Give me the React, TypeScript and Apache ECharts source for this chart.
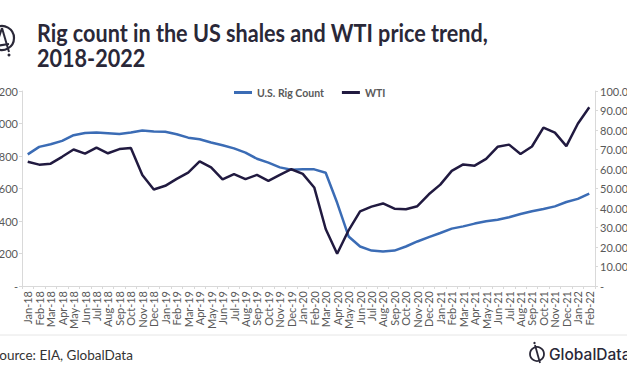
import React, { useEffect, useRef } from "react";
import * as echarts from "echarts";

const months = [
  "Jan-18","Feb-18","Mar-18","Apr-18","May-18","Jun-18","Jul-18","Aug-18","Sep-18","Oct-18","Nov-18","Dec-18",
  "Jan-19","Feb-19","Mar-19","Apr-19","May-19","Jun-19","Jul-19","Aug-19","Sep-19","Oct-19","Nov-19","Dec-19",
  "Jan-20","Feb-20","Mar-20","Apr-20","May-20","Jun-20","Jul-20","Aug-20","Sep-20","Oct-20","Nov-20","Dec-20",
  "Jan-21","Feb-21","Mar-21","Apr-21","May-21","Jun-21","Jul-21","Aug-21","Sep-21","Oct-21","Nov-21","Dec-21",
  "Jan-22","Feb-22",
];

const rigCount = [
  810, 856, 872, 893, 928, 942, 944, 940, 936, 944, 957, 951,
  949, 934, 913, 903, 883, 866, 847, 821, 783, 759, 730, 716,
  718, 718, 697, 512, 305, 243, 218, 212, 218, 243, 274, 301,
  326, 353, 367, 384, 398, 408, 423, 443, 460, 474, 490, 517,
  536, 569,
];

const wti = [
  63.7, 62.23, 62.73, 66.25, 69.98, 67.87, 70.98, 68.06, 70.23, 70.75, 56.96, 49.52,
  51.38, 54.95, 58.15, 63.86, 60.83, 54.66, 57.35, 54.81, 56.95, 53.96, 57.03, 59.88,
  57.52, 50.54, 29.21, 16.55, 28.56, 38.31, 40.71, 42.34, 39.63, 39.4, 40.94, 47.02,
  52.0, 59.04, 62.33, 61.72, 65.17, 71.38, 72.49, 67.73, 71.54, 81.22, 78.65, 71.71,
  83.22, 91.64,
];

const seriesNames = ["U.S. Rig Count", "WTI"];
const titleLines = ["Rig count in the US shales and WTI price trend,", "2018-2022"];
const sourceText = "Source: EIA, GlobalData";

const BLUE = "#3b6cb5";
const NAVY = "#211a40";
const DARK = "#2a2838";
const AXIS_TEXT = "#595959";
const FONT = "Lato, 'Open Sans', sans-serif";

export default function App() {
  const ref = useRef<HTMLDivElement>(null);

  useEffect(() => {
    if (!ref.current) return;
    const chart = echarts.init(ref.current, undefined, { renderer: "svg" });
    chart.setOption({
      animation: false,
      backgroundColor: "#ffffff",
      textStyle: { fontFamily: FONT },
      grid: { left: 22, right: 32, top: 91, bottom: 90, containLabel: false, outerBoundsMode: "none" },
      legend: {
        data: seriesNames,
        left: 229,
        top: 82,
        icon: "rect",
        itemWidth: 18,
        itemHeight: 3,
        itemGap: 18,
        textStyle: { fontSize: 10.5, fontWeight: "bold", color: AXIS_TEXT, fontFamily: FONT },
      },
      xAxis: {
        type: "category",
        data: months,
        boundaryGap: true,
        axisLine: { show: true, lineStyle: { color: "#d9d9d9" } },
        axisTick: { show: true, length: 3, lineStyle: { color: "#d9d9d9" } },
        axisLabel: { rotate: 90, interval: 0, fontSize: 11, color: AXIS_TEXT, margin: 5, fontFamily: FONT },
      },
      yAxis: [
        {
          type: "value",
          min: 0,
          max: 1200,
          interval: 200,
          splitLine: { show: false },
          axisLine: { show: true, lineStyle: { color: "#d9d9d9" } },
          axisTick: { show: true, length: 3, lineStyle: { color: "#d9d9d9" } },
          axisLabel: {
            fontSize: 11,
            color: AXIS_TEXT,
            margin: 4,
            fontFamily: FONT,
            formatter: (v: number) => (v === 0 ? "-" : v.toLocaleString("en-US")),
          },
        },
        {
          type: "value",
          min: 0,
          max: 100,
          interval: 10,
          position: "right",
          splitLine: { show: false },
          axisLine: { show: true, lineStyle: { color: "#d9d9d9" } },
          axisTick: { show: true, length: 3, lineStyle: { color: "#d9d9d9" } },
          axisLabel: {
            fontSize: 11,
            color: AXIS_TEXT,
            margin: 5,
            fontFamily: FONT,
            formatter: (v: number) => (v === 0 ? "-" : v.toFixed(2)),
          },
        },
      ],
      series: [
        {
          name: seriesNames[0],
          type: "line",
          yAxisIndex: 0,
          data: rigCount,
          showSymbol: false,
          symbol: "none",
          lineStyle: { color: BLUE, width: 2.5 },
          itemStyle: { color: BLUE },
        },
        {
          name: seriesNames[1],
          type: "line",
          yAxisIndex: 1,
          data: wti,
          showSymbol: false,
          symbol: "none",
          lineStyle: { color: NAVY, width: 2.5 },
          itemStyle: { color: NAVY },
        },
      ],
      graphic: [
        {
          type: "text",
          x: 37,
          y: 21,
          scaleX: 0.9,
          style: { text: titleLines[0], fontSize: 24, fontWeight: "bold", fill: DARK, fontFamily: FONT, textVerticalAlign: "top" },
        },
        {
          type: "text",
          x: 37,
          y: 46,
          scaleX: 0.9,
          style: { text: titleLines[1], fontSize: 24, fontWeight: "bold", fill: DARK, fontFamily: FONT, textVerticalAlign: "top" },
        },
        // top-left logo (cropped)
        { type: "circle", shape: { cx: 2, cy: 38, r: 12 }, style: { fill: "none", stroke: DARK, lineWidth: 2.2 } },
        { type: "polyline", shape: { points: [[2, 28], [-4, 46], [9, 44]] }, style: { fill: "none", stroke: DARK, lineWidth: 2 } },
        { type: "line", shape: { x1: 2, y1: 28, x2: 9, y2: 52 }, style: { stroke: DARK, lineWidth: 2 } },
        { type: "circle", shape: { cx: 9, cy: 55, r: 1.5 }, style: { fill: DARK } },
        // separator
        { type: "line", shape: { x1: 0, y1: 335, x2: 627, y2: 335 }, style: { stroke: "#e6e6e6", lineWidth: 1 } },
        // source
        {
          type: "text",
          x: -8,
          y: 355,
          style: { text: sourceText, fontSize: 13.5, fill: "#333333", fontFamily: FONT, textVerticalAlign: "middle" },
        },
        // bottom-right logo
        { type: "circle", shape: { cx: 537, cy: 354, r: 7 }, style: { fill: "none", stroke: DARK, lineWidth: 1.8 } },
        { type: "line", shape: { x1: 535, y1: 345, x2: 540, y2: 363 }, style: { stroke: DARK, lineWidth: 1.8 } },
        { type: "circle", shape: { cx: 534.5, cy: 343, r: 1.2 }, style: { fill: DARK } },
        {
          type: "text",
          x: 549,
          y: 354,
          style: { text: "GlobalData", fontSize: 15.5, fontWeight: 500, fill: DARK, fontFamily: "Inter, sans-serif", textVerticalAlign: "middle" },
        },
      ],
    });
    return () => chart.dispose();
  }, []);

  return <div ref={ref} style={{ width: 627, height: 376, position: "absolute", left: 0, top: 0 }} />;
}
